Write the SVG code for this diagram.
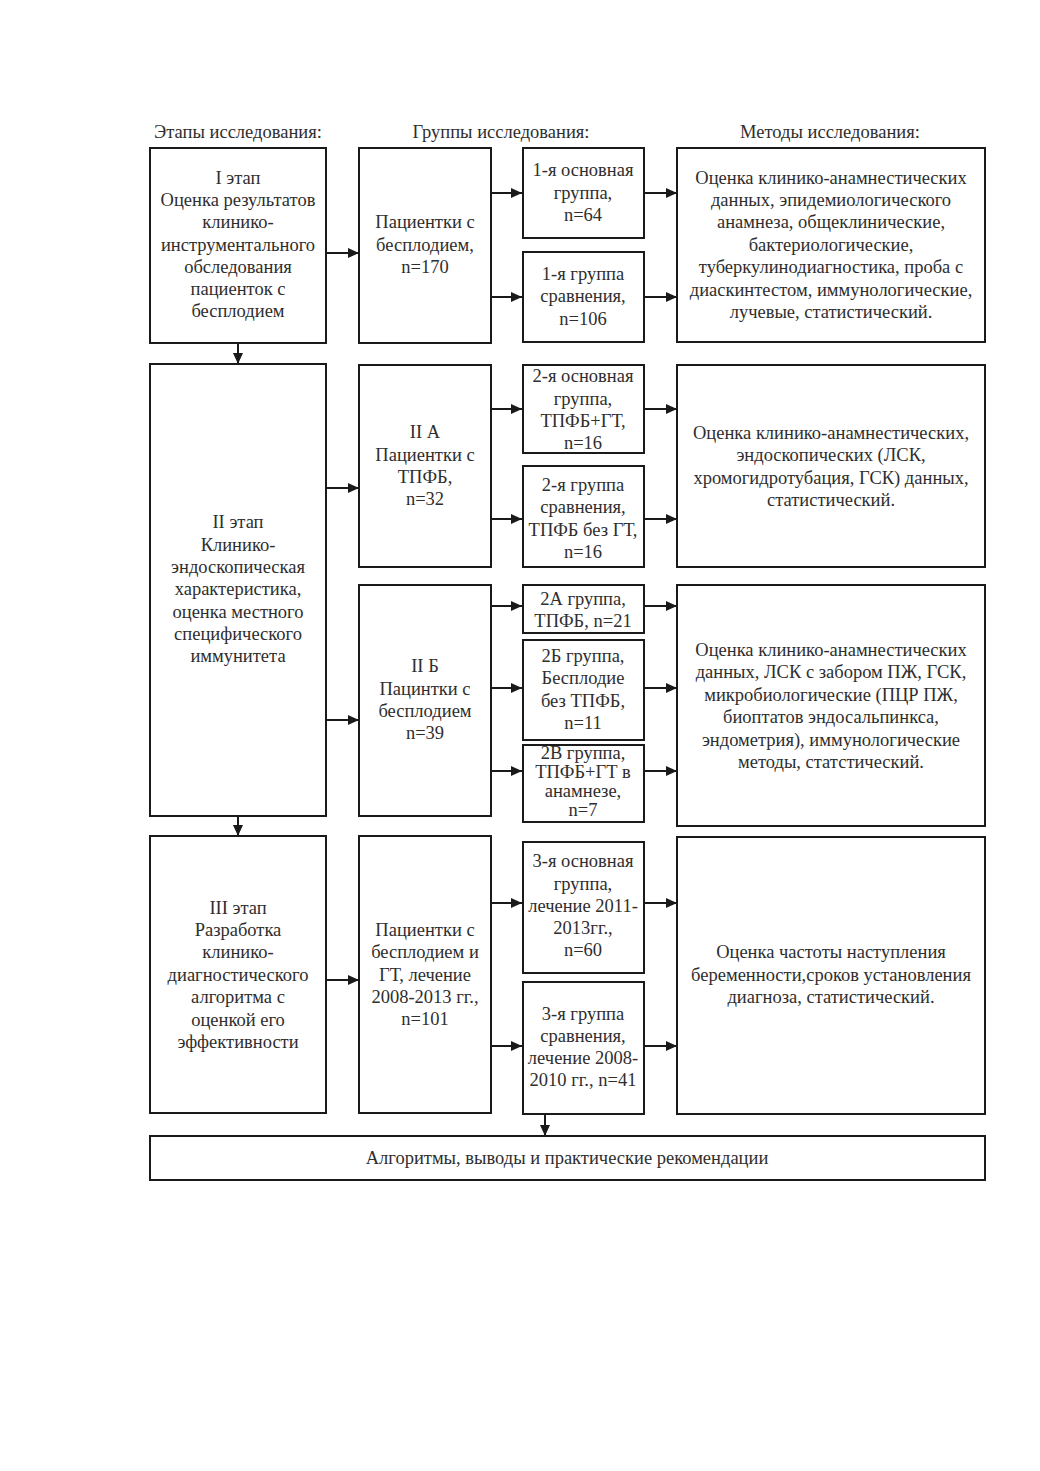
<svg xmlns="http://www.w3.org/2000/svg" width="1040" height="1471" viewBox="0 0 1040 1471">
<style>
.box{fill:#fff;stroke:#1a1a1a;stroke-width:2}
.t{font-family:"Liberation Serif","Times New Roman",serif;font-size:18.5px;fill:#2e2e2e;text-anchor:middle}
.h{font-family:"Liberation Serif","Times New Roman",serif;font-size:18.5px;fill:#2e2e2e;text-anchor:middle}
.c{stroke:#1a1a1a;stroke-width:2;fill:none;marker-end:url(#ah)}
</style>
<defs>
<marker id="ah" markerUnits="userSpaceOnUse" markerWidth="12" markerHeight="10" refX="11" refY="5" orient="auto">
<path d="M0,0 L11,5 L0,10 Z" fill="#1a1a1a"/>
</marker>
</defs>
<rect width="1040" height="1471" fill="#fff"/>
<g id="headers">
<text class="h" x="238" y="138">Этапы исследования:</text>
<text class="h" x="501" y="138">Группы исследования:</text>
<text class="h" x="830" y="138">Методы исследования:</text>
</g>
<g id="connectors">
<path class="c" d="M326,253 H359"/>
<path class="c" d="M491,193 H522"/>
<path class="c" d="M491,297 H522"/>
<path class="c" d="M644,193 H677"/>
<path class="c" d="M644,297 H677"/>
<path class="c" d="M238,343 V364"/>
<path class="c" d="M326,488 H359"/>
<path class="c" d="M491,409 H522"/>
<path class="c" d="M491,519 H522"/>
<path class="c" d="M644,409 H677"/>
<path class="c" d="M644,519 H677"/>
<path class="c" d="M326,720 H359"/>
<path class="c" d="M491,606 H522"/>
<path class="c" d="M491,688 H522"/>
<path class="c" d="M491,771 H522"/>
<path class="c" d="M644,606 H677"/>
<path class="c" d="M644,688 H677"/>
<path class="c" d="M644,771 H677"/>
<path class="c" d="M238,816 V836"/>
<path class="c" d="M326,980 H359"/>
<path class="c" d="M491,903 H522"/>
<path class="c" d="M491,1046 H522"/>
<path class="c" d="M644,903 H677"/>
<path class="c" d="M644,1046 H677"/>
<path class="c" d="M545,1114 V1136"/>
</g>
<g id="stage1">
<rect class="box" x="150" y="148" width="176" height="195"/>
<text class="t" x="238" y="184">I этап</text>
<text class="t" x="238" y="206">Оценка результатов</text>
<text class="t" x="238" y="228">клинико-</text>
<text class="t" x="238" y="251">инструментального</text>
<text class="t" x="238" y="273">обследования</text>
<text class="t" x="238" y="295">пациенток с</text>
<text class="t" x="238" y="317">бесплодием</text>
</g>
<g id="group1">
<rect class="box" x="359" y="148" width="132" height="195"/>
<text class="t" x="425" y="228">Пациентки с</text>
<text class="t" x="425" y="251">бесплодием,</text>
<text class="t" x="425" y="273">n=170</text>
</g>
<g id="g1main">
<rect class="box" x="523" y="148" width="121" height="90"/>
<text class="t" x="583" y="176">1-я основная</text>
<text class="t" x="583" y="199">группа,</text>
<text class="t" x="583" y="221">n=64</text>
</g>
<g id="g1comp">
<rect class="box" x="523" y="252" width="121" height="90"/>
<text class="t" x="583" y="280">1-я группа</text>
<text class="t" x="583" y="302">сравнения,</text>
<text class="t" x="583" y="325">n=106</text>
</g>
<g id="methods1">
<rect class="box" x="677" y="148" width="308" height="194"/>
<text class="t" x="831" y="184">Оценка клинико-анамнестических</text>
<text class="t" x="831" y="206">данных, эпидемиологического</text>
<text class="t" x="831" y="228">анамнеза, общеклинические,</text>
<text class="t" x="831" y="251">бактериологические,</text>
<text class="t" x="831" y="273">туберкулинодиагностика, проба с</text>
<text class="t" x="831" y="296">диаскинтестом, иммунологические,</text>
<text class="t" x="831" y="318">лучевые, статистический.</text>
</g>
<g id="stage2">
<rect class="box" x="150" y="364" width="176" height="452"/>
<text class="t" x="238" y="528">II этап</text>
<text class="t" x="238" y="551">Клинико-</text>
<text class="t" x="238" y="573">эндоскопическая</text>
<text class="t" x="238" y="595">характеристика,</text>
<text class="t" x="238" y="618">оценка местного</text>
<text class="t" x="238" y="640">специфического</text>
<text class="t" x="238" y="662">иммунитета</text>
</g>
<g id="group2a">
<rect class="box" x="359" y="365" width="132" height="202"/>
<text class="t" x="425" y="438">II А</text>
<text class="t" x="425" y="461">Пациентки с</text>
<text class="t" x="425" y="483">ТПФБ,</text>
<text class="t" x="425" y="505">n=32</text>
</g>
<g id="g2main">
<rect class="box" x="523" y="365" width="121" height="88"/>
<text class="t" x="583" y="382">2-я основная</text>
<text class="t" x="583" y="405">группа,</text>
<text class="t" x="583" y="427">ТПФБ+ГТ,</text>
<text class="t" x="583" y="449">n=16</text>
</g>
<g id="g2comp">
<rect class="box" x="523" y="466" width="121" height="101"/>
<text class="t" x="583" y="491">2-я группа</text>
<text class="t" x="583" y="513">сравнения,</text>
<text class="t" x="583" y="536">ТПФБ без ГТ,</text>
<text class="t" x="583" y="558">n=16</text>
</g>
<g id="methods2">
<rect class="box" x="677" y="365" width="308" height="202"/>
<text class="t" x="831" y="439">Оценка клинико-анамнестических,</text>
<text class="t" x="831" y="461">эндоскопических (ЛСК,</text>
<text class="t" x="831" y="484">хромогидротубация, ГСК) данных,</text>
<text class="t" x="831" y="506">статистический.</text>
</g>
<g id="group2b">
<rect class="box" x="359" y="585" width="132" height="231"/>
<text class="t" x="425" y="672">II Б</text>
<text class="t" x="425" y="695">Пацинтки с</text>
<text class="t" x="425" y="717">бесплодием</text>
<text class="t" x="425" y="739">n=39</text>
</g>
<g id="g2A">
<rect class="box" x="523" y="585" width="121" height="48"/>
<text class="t" x="583" y="605">2А группа,</text>
<text class="t" x="583" y="627">ТПФБ, n=21</text>
</g>
<g id="g2B">
<rect class="box" x="523" y="640" width="121" height="100"/>
<text class="t" x="583" y="662">2Б группа,</text>
<text class="t" x="583" y="684">Бесплодие</text>
<text class="t" x="583" y="707">без ТПФБ,</text>
<text class="t" x="583" y="729">n=11</text>
</g>
<g id="g2V">
<rect class="box" x="523" y="745" width="121" height="77"/>
<text class="t" x="583" y="759">2В группа,</text>
<text class="t" x="583" y="778">ТПФБ+ГТ в</text>
<text class="t" x="583" y="797">анамнезе,</text>
<text class="t" x="583" y="816">n=7</text>
</g>
<g id="methods3">
<rect class="box" x="677" y="585" width="308" height="241"/>
<text class="t" x="831" y="656">Оценка клинико-анамнестических</text>
<text class="t" x="831" y="678">данных, ЛСК с забором ПЖ, ГСК,</text>
<text class="t" x="831" y="701">микробиологические (ПЦР ПЖ,</text>
<text class="t" x="831" y="723">биоптатов эндосальпинкса,</text>
<text class="t" x="831" y="746">эндометрия), иммунологические</text>
<text class="t" x="831" y="768">методы, статстический.</text>
</g>
<g id="stage3">
<rect class="box" x="150" y="836" width="176" height="277"/>
<text class="t" x="238" y="914">III этап</text>
<text class="t" x="238" y="936">Разработка</text>
<text class="t" x="238" y="958">клинико-</text>
<text class="t" x="238" y="981">диагностического</text>
<text class="t" x="238" y="1003">алгоритма с</text>
<text class="t" x="238" y="1026">оценкой его</text>
<text class="t" x="238" y="1048">эффективности</text>
</g>
<g id="group3">
<rect class="box" x="359" y="836" width="132" height="277"/>
<text class="t" x="425" y="936">Пациентки с</text>
<text class="t" x="425" y="958">бесплодием и</text>
<text class="t" x="425" y="981">ГТ, лечение</text>
<text class="t" x="425" y="1003">2008-2013 гг.,</text>
<text class="t" x="425" y="1025">n=101</text>
</g>
<g id="g3main">
<rect class="box" x="523" y="842" width="121" height="131"/>
<text class="t" x="583" y="867">3-я основная</text>
<text class="t" x="583" y="890">группа,</text>
<text class="t" x="583" y="912">лечение 2011-</text>
<text class="t" x="583" y="934">2013гг.,</text>
<text class="t" x="583" y="956">n=60</text>
</g>
<g id="g3comp">
<rect class="box" x="523" y="982" width="121" height="132"/>
<text class="t" x="583" y="1020">3-я группа</text>
<text class="t" x="583" y="1042">сравнения,</text>
<text class="t" x="583" y="1064">лечение 2008-</text>
<text class="t" x="583" y="1086">2010 гг., n=41</text>
</g>
<g id="methods4">
<rect class="box" x="677" y="837" width="308" height="277"/>
<text class="t" x="831" y="958">Оценка частоты наступления</text>
<text class="t" x="831" y="981">беременности,сроков установления</text>
<text class="t" x="831" y="1003">диагноза, статистический.</text>
</g>
<g id="result">
<rect class="box" x="150" y="1136" width="835" height="44"/>
<text class="t" x="567" y="1164">Алгоритмы, выводы и практические рекомендации</text>
</g>
</svg>
